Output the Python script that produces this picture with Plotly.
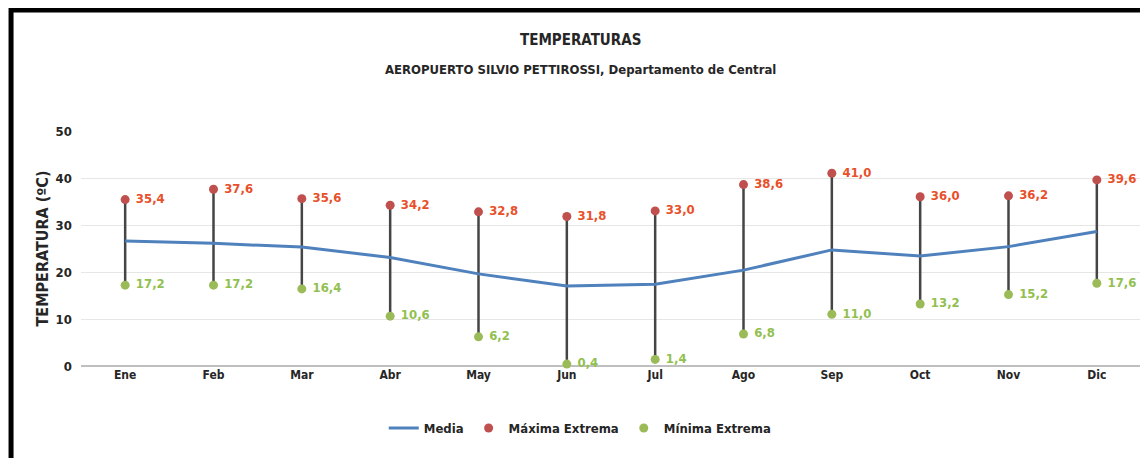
import plotly.graph_objects as go

meses = ["Ene", "Feb", "Mar", "Abr", "May", "Jun", "Jul", "Ago", "Sep", "Oct", "Nov", "Dic"]
media = [26.6, 26.1, 25.3, 23.1, 19.6, 17.0, 17.4, 20.4, 24.7, 23.4, 25.4, 28.6]
maxima = [35.4, 37.6, 35.6, 34.2, 32.8, 31.8, 33.0, 38.6, 41.0, 36.0, 36.2, 39.6]
minima = [17.2, 17.2, 16.4, 10.6, 6.2, 0.4, 1.4, 6.8, 11.0, 13.2, 15.2, 17.6]

FONT = "Liberation Sans Narrow, DejaVu Sans Condensed, Roboto, sans-serif"

def fmt(v):
    return f"{v:.1f}".replace(".", ",")

# vertical range lines (min to max)
vx, vy = [], []
for m, lo, hi in zip(meses, minima, maxima):
    vx += [m, m, None]
    vy += [lo, hi, None]

fig = go.Figure()
fig.add_trace(go.Scatter(x=vx, y=vy, mode="lines", line=dict(color="#454545", width=2.5),
                         showlegend=False, hoverinfo="skip", cliponaxis=False))
fig.add_trace(go.Scatter(x=meses, y=media, mode="lines", name="Media",
                         line=dict(color="#4F81BD", width=3), cliponaxis=False))
fig.add_trace(go.Scatter(x=meses, y=maxima, mode="markers+text", name="Máxima Extrema",
                         marker=dict(color="#C0504D", size=9),
                         text=[fmt(v) for v in maxima], texttemplate=" %{text}",
                         textposition="middle right",
                         textfont=dict(color="#E8502A", size=13, family=FONT, weight="bold"),
                         cliponaxis=False))
fig.add_trace(go.Scatter(x=meses, y=minima, mode="markers+text", name="Mínima Extrema",
                         marker=dict(color="#9BBB59", size=9),
                         text=[fmt(v) for v in minima], texttemplate=" %{text}",
                         textposition="middle right",
                         textfont=dict(color="#92C050", size=13, family=FONT, weight="bold"),
                         cliponaxis=False))

fig.update_layout(
    width=1148, height=458,
    margin=dict(l=73, r=15, t=123, b=100),
    paper_bgcolor="white", plot_bgcolor="white",
    font=dict(family=FONT, color="#262626"),
    xaxis=dict(range=[-0.5, 11.5], showgrid=False, showline=False, ticks="",
               tickfont=dict(size=12, family=FONT, color="#262626", weight="bold")),
    yaxis=dict(range=[0, 50], dtick=10, showgrid=True, gridcolor="#E6E6E6", gridwidth=1,
               zeroline=True, zerolinecolor="#BFBFBF", zerolinewidth=1.5,
               tickfont=dict(size=13, family=FONT, color="#262626", weight="bold"),
               ticksuffix="  ",
               title=dict(text="<b>TEMPERATURA (ºC)</b>", font=dict(size=16, family=FONT, color="#262626"),
                          standoff=2)),
    legend=dict(orientation="h", x=0.471, xanchor="center", y=-0.2, yanchor="top",
                font=dict(size=13, family=FONT, color="#262626", weight="bold"),
                itemwidth=30),
    showlegend=True,
)

fig.add_annotation(text="<b>TEMPERATURAS</b>", xref="paper", yref="paper", x=0.471, y=1.387,
                   xanchor="center", yanchor="middle", showarrow=False,
                   font=dict(size=15, family=FONT, color="#262626"))
fig.add_annotation(text="<b>AEROPUERTO SILVIO PETTIROSSI, Departamento de Central</b>",
                   xref="paper", yref="paper", x=0.471, y=1.26,
                   xanchor="center", yanchor="middle", showarrow=False,
                   font=dict(size=13, family=FONT, color="#262626"))

# black frame (left and top edges of the chart border)
fig.add_shape(type="rect", xref="paper", yref="paper",
              x0=-0.066, x1=1.2, y0=-0.6, y1=1.515,
              line=dict(color="black", width=5), fillcolor="rgba(0,0,0,0)", layer="above")

fig.write_html("out.html")
